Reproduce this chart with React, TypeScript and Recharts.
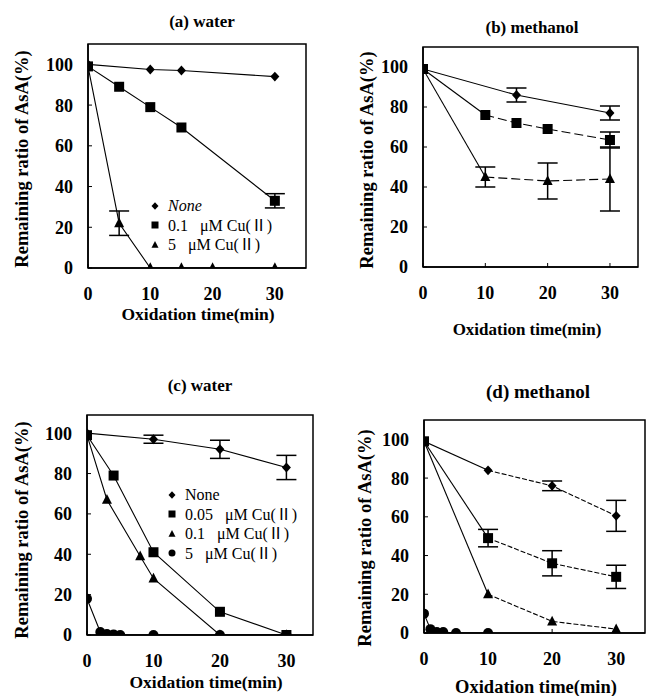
import React from 'react';
import { LineChart, Line, XAxis, YAxis, ErrorBar, ReferenceArea, Legend } from 'recharts';

const W = 646;
const H = 696;

// ---------- Panel (a) water ----------
const A_NONE_T = [0, 10, 15, 30];
const A_NONE_V = [100, 97.5, 97, 94];
const A_NONE_E = [null, null, null, null];
const A_CU01_T = [0, 5, 10, 15, 30];
const A_CU01_V = [99, 89, 79, 69, 33];
const A_CU01_E = [null, null, null, null, 3.5];
const A_CU5_T = [0, 5, 10, 15, 20, 30];
const A_CU5_V = [99, 22, 0, 0, 0, 0];
const A_CU5_E = [null, 6, null, null, null, null];

// ---------- Panel (b) methanol ----------
const B_NONE_T = [0, 15, 30];
const B_NONE_V = [99, 86, 77];
const B_NONE_E = [null, 3.5, 3.5];
const B_CU01_T = [0, 10, 15, 20, 30];
const B_CU01_V = [99, 76, 72, 69, 63.5];
const B_CU01_E = [null, null, null, null, 4];
const B_CU5_T = [0, 10, 20, 30];
const B_CU5_V = [99, 45, 43, 44];
const B_CU5_E = [null, 5, 9, 16];

// ---------- Panel (c) water ----------
const C_NONE_T = [0, 10, 20, 30];
const C_NONE_V = [100, 97, 92, 83];
const C_NONE_E = [null, 2, 4.5, 6];
const C_CU005_T = [0, 4, 10, 20, 30];
const C_CU005_V = [99, 79, 41, 11.5, 0];
const C_CU005_E = [null, null, null, null, null];
const C_CU01_T = [0, 3, 8, 10, 20, 30];
const C_CU01_V = [99, 67, 39, 28, 0, 0];
const C_CU01_E = [null, null, null, null, null, null];
const C_CU5_T = [0, 2, 3, 4, 5, 10, 20, 30];
const C_CU5_V = [18, 1.5, 0.5, 0.3, 0, 0, 0, 0];
const C_CU5_E = [null, null, null, null, null, null, null, null];

// ---------- Panel (d) methanol ----------
const D_NONE_T = [0, 10, 20, 30];
const D_NONE_V = [99, 84, 76, 60.5];
const D_NONE_E = [null, null, 2.5, 8];
const D_CU005_T = [0, 10, 20, 30];
const D_CU005_V = [99, 49, 36, 29];
const D_CU005_E = [null, 4.5, 6.5, 6];
const D_CU01_T = [0, 10, 20, 30];
const D_CU01_V = [99, 20, 6, 2];
const D_CU01_E = [null, null, null, null];
const D_CU5_T = [0, 1, 2, 3, 5, 10];
const D_CU5_V = [10, 2, 0.5, 0.5, 0, 0];
const D_CU5_E = [null, null, null, null, null, null];

const Y_TICKS = [0, 20, 40, 60, 80, 100];
const X_TICKS = [0, 10, 20, 30];
const TITLES = ['(a) water', '(b) methanol', '(c) water', '(d) methanol'];
const Y_LABEL = 'Remaining ratio of AsA(%)';
const X_LABEL = 'Oxidation time(min)';
const LEG_A = ['None', '0.1\u2002\u00a0\u03bcM Cu(\u2161)', '5\u2002\u00a0\u03bcM Cu(\u2161)'];
const LEG_C = ['None', '0.05\u2002\u00a0\u03bcM Cu(\u2161)', '0.1\u2002\u00a0\u03bcM Cu(\u2161)', '5\u2002\u00a0\u03bcM Cu(\u2161)'];

type Pt = { t: number; v: number; e: number | null };
const zip = (t: number[], v: number[], e: (number | null)[]): Pt[] =>
  t.map((x, i) => ({ t: x, v: v[i], e: e[i] }));

type Shape = 'diamond' | 'square' | 'triangle' | 'circle';
type Series = { id: string; shape: Shape; data: Pt[]; dashFrom?: number };

const SERIF = '"Liberation Serif", "Noto Sans CJK JP", serif';

function Marker({ cx, cy, shape, size }: { cx?: number; cy?: number; shape: Shape; size: number }) {
  if (cx == null || cy == null || isNaN(cx) || isNaN(cy)) return null;
  const s = size / 2;
  if (shape === 'diamond')
    return <polygon points={`${cx},${cy - s * 1.1} ${cx + s},${cy} ${cx},${cy + s * 1.1} ${cx - s},${cy}`} fill="#000" />;
  if (shape === 'square') return <rect x={cx - s} y={cy - s} width={size} height={size} fill="#000" />;
  if (shape === 'triangle')
    return <polygon points={`${cx},${cy - s * 1.15} ${cx + s},${cy + s * 0.8} ${cx - s},${cy + s * 0.8}`} fill="#000" />;
  return <circle cx={cx} cy={cy} r={s} fill="#000" />;
}

const renderXTick = (props: any) => (
  <text
    key={`xt-${props.index}`}
    x={props.x}
    y={props.y}
    dy="0.71em"
    textAnchor="middle"
    fontFamily="Liberation Serif"
    fontWeight={700}
    fontSize={18}
    fill="#000"
  >
    {props.payload.value}
  </text>
);
const renderYTick = (props: any) => (
  <text
    key={`yt-${props.index}`}
    x={props.x}
    y={props.y}
    dy="0.36em"
    textAnchor="end"
    fontFamily="Liberation Serif"
    fontWeight={700}
    fontSize={18}
    fill="#000"
  >
    {props.payload.value}
  </text>
);

type PanelCfg = {
  l: number; t: number; r: number; b: number;
  xMax: number; yMax: number;
  series: Series[];
  dash: string;
  legend?: { items: string[]; shapes: Shape[]; left: number; top: number; italicFirst: boolean; fontSize: number; row: number };
};

function LegendBox({ cfg }: { cfg: NonNullable<PanelCfg['legend']> }) {
  return (
    <div style={{ fontFamily: SERIF, fontWeight: 'normal', fontSize: cfg.fontSize, color: '#000', lineHeight: `${cfg.row}px`, whiteSpace: 'nowrap' }}>
      {cfg.items.map((it, i) => (
        <div key={i} style={{ display: 'flex', alignItems: 'center', height: cfg.row }}>
          <svg width={10} height={10} style={{ marginRight: 8 }}>
            <Marker cx={5} cy={5} shape={cfg.shapes[i]} size={7} />
          </svg>
          <span style={{ fontStyle: cfg.italicFirst && i === 0 ? 'italic' : 'normal' }}>{it}</span>
        </div>
      ))}
    </div>
  );
}

function Panel({ cfg }: { cfg: PanelCfg }) {
  const lines: React.ReactNode[] = [];
  cfg.series.forEach((s) => {
    if (s.dashFrom != null) {
      lines.push(
        <Line key={s.id + 'a'} data={s.data.slice(0, s.dashFrom + 1)} dataKey="v" type="linear" stroke="#000" strokeWidth={1.1} dot={false} isAnimationActive={false} legendType="none" />
      );
      lines.push(
        <Line key={s.id + 'b'} data={s.data.slice(s.dashFrom)} dataKey="v" type="linear" stroke="#000" strokeWidth={1.1} strokeDasharray={cfg.dash} dot={false} isAnimationActive={false} legendType="none" />
      );
    } else {
      lines.push(
        <Line key={s.id + 'a'} data={s.data} dataKey="v" type="linear" stroke="#000" strokeWidth={1.1} dot={false} isAnimationActive={false} legendType="none" />
      );
    }
  });
  cfg.series.forEach((s) => {
    lines.push(
      <Line
        key={s.id + 'm'}
        data={s.data}
        dataKey="v"
        type="linear"
        stroke="none"
        isAnimationActive={false}
        legendType="none"
        dot={(p: any) => <Marker key={`${s.id}-${p.index}`} cx={p.cx} cy={p.cy} shape={s.shape} size={s.shape === 'diamond' ? 9 : 10} />}
      >
        <ErrorBar dataKey="e" width={10} stroke="#000" strokeWidth={1.5} direction="y" />
      </Line>
    );
  });
  return (
    <div style={{ position: 'absolute', left: 0, top: 0 }}>
      <LineChart width={W} height={H} margin={{ left: cfg.l - 1, top: cfg.t, right: W - cfg.r, bottom: H - cfg.b - 1 }}>
        <XAxis
          dataKey="t"
          type="number"
          domain={[0, cfg.xMax]}
          ticks={X_TICKS}
          interval={0}
          allowDataOverflow
          height={1}
          tick={renderXTick}
          tickSize={-4}
          tickMargin={23}
          axisLine={{ stroke: '#000', strokeWidth: 1.5 }}
          tickLine={{ stroke: '#000' }}
        />
        <YAxis
          type="number"
          domain={[0, cfg.yMax]}
          ticks={Y_TICKS}
          interval={0}
          allowDataOverflow
          width={1}
          tick={renderYTick}
          tickSize={-4}
          tickMargin={19}
          axisLine={{ stroke: '#000', strokeWidth: 1.5 }}
          tickLine={{ stroke: '#000' }}
        />
        <ReferenceArea x1={0} x2={cfg.xMax} y1={0} y2={cfg.yMax} fill="none" stroke="#000" strokeWidth={1.5} ifOverflow="visible" />
        {lines}
        {cfg.legend && (
          <Legend
            layout="vertical"
            align="center"
            verticalAlign="middle"
            wrapperStyle={{ position: 'absolute', left: cfg.legend.left, top: cfg.legend.top, width: 'auto', height: 'auto' }}
            content={() => <LegendBox cfg={cfg.legend!} />}
          />
        )}
      </LineChart>
    </div>
  );
}

const PANELS: PanelCfg[] = [
  {
    l: 88, t: 44, r: 306, b: 268, xMax: 35, yMax: 110, dash: '8 3',
    series: [
      { id: 'an', shape: 'diamond', data: zip(A_NONE_T, A_NONE_V, A_NONE_E) },
      { id: 'a1', shape: 'square', data: zip(A_CU01_T, A_CU01_V, A_CU01_E) },
      { id: 'a5', shape: 'triangle', data: zip(A_CU5_T, A_CU5_V, A_CU5_E) },
    ],
    legend: { items: LEG_A, shapes: ['diamond', 'square', 'triangle'], left: 150, top: 196, italicFirst: true, fontSize: 16, row: 19.5 },
  },
  {
    l: 423, t: 47, r: 638, b: 267, xMax: 34.5, yMax: 110, dash: '9 4',
    series: [
      { id: 'bn', shape: 'diamond', data: zip(B_NONE_T, B_NONE_V, B_NONE_E) },
      { id: 'b1', shape: 'square', data: zip(B_CU01_T, B_CU01_V, B_CU01_E), dashFrom: 1 },
      { id: 'b5', shape: 'triangle', data: zip(B_CU5_T, B_CU5_V, B_CU5_E), dashFrom: 1 },
    ],
  },
  {
    l: 87, t: 415, r: 313, b: 635, xMax: 34, yMax: 109, dash: '8 3',
    series: [
      { id: 'cn', shape: 'diamond', data: zip(C_NONE_T, C_NONE_V, C_NONE_E) },
      { id: 'c05', shape: 'square', data: zip(C_CU005_T, C_CU005_V, C_CU005_E) },
      { id: 'c1', shape: 'triangle', data: zip(C_CU01_T, C_CU01_V, C_CU01_E) },
      { id: 'c5', shape: 'circle', data: zip(C_CU5_T, C_CU5_V, C_CU5_E) },
    ],
    legend: { items: LEG_C, shapes: ['diamond', 'square', 'triangle', 'circle'], left: 167, top: 485, italicFirst: false, fontSize: 16, row: 19.5 },
  },
  {
    l: 424, t: 420, r: 645, b: 633, xMax: 34.5, yMax: 110, dash: '5 2',
    series: [
      { id: 'dn', shape: 'diamond', data: zip(D_NONE_T, D_NONE_V, D_NONE_E), dashFrom: 1 },
      { id: 'd05', shape: 'square', data: zip(D_CU005_T, D_CU005_V, D_CU005_E), dashFrom: 1 },
      { id: 'd1', shape: 'triangle', data: zip(D_CU01_T, D_CU01_V, D_CU01_E), dashFrom: 1 },
      { id: 'd5', shape: 'circle', data: zip(D_CU5_T, D_CU5_V, D_CU5_E) },
    ],
  },
];

// text placement (centers)
const TITLE_POS = [
  { x: 202, y: 21, fs: 17 },
  { x: 532, y: 27, fs: 17 },
  { x: 200, y: 385, fs: 17 },
  { x: 538, y: 391, fs: 19 },
];
const YLAB_POS = [
  { x: 22, y: 159 },
  { x: 367, y: 160 },
  { x: 22, y: 530 },
  { x: 365, y: 538 },
];
const XLAB_POS = [
  { x: 198, y: 315, fs: 17.5 },
  { x: 527, y: 329, fs: 17 },
  { x: 206, y: 683, fs: 17.5 },
  { x: 536, y: 687, fs: 18.5 },
];

const textBase: React.CSSProperties = {
  position: 'absolute',
  fontFamily: SERIF,
  fontWeight: 'bold',
  color: '#000',
  whiteSpace: 'nowrap',
  lineHeight: 1,
};

export default function App() {
  return (
    <div style={{ position: 'absolute', left: 0, top: 0, width: W, height: H, background: '#fff', overflow: 'hidden' }}>
      {PANELS.map((p, i) => (
        <Panel key={i} cfg={p} />
      ))}
      {TITLES.map((t, i) => (
        <div key={'t' + i} style={{ ...textBase, fontSize: TITLE_POS[i].fs, left: TITLE_POS[i].x, top: TITLE_POS[i].y, transform: 'translate(-50%, -50%)' }}>
          {t}
        </div>
      ))}
      {YLAB_POS.map((p, i) => (
        <div key={'y' + i} style={{ ...textBase, fontSize: 18.5, left: p.x, top: p.y, transform: 'translate(-50%, -50%) rotate(-90deg)' }}>
          {Y_LABEL}
        </div>
      ))}
      {XLAB_POS.map((p, i) => (
        <div key={'x' + i} style={{ ...textBase, fontSize: p.fs, left: p.x, top: p.y, transform: 'translate(-50%, -50%)' }}>
          {X_LABEL}
        </div>
      ))}
    </div>
  );
}
